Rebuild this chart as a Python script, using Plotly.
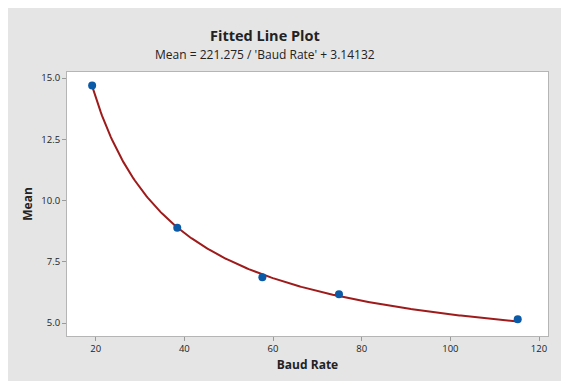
import numpy as np
import plotly.graph_objects as go

# Observed data
baud_rate = [19.2, 38.4, 57.6, 74.88, 115.2]
mean_vals = [14.69, 8.89, 6.87, 6.17, 5.15]

# Fitted model coefficients (from the subtitle)
fit_slope = 221.275
fit_intercept = 3.14132

x_ticks = [20, 40, 60, 80, 100, 120]
y_ticks = [5.0, 7.5, 10.0, 12.5, 15.0]
y_tick_text = ["5.0", "7.5", "10.0", "12.5", "15.0"]

title_text = "Fitted Line Plot"
subtitle_text = "Mean = 221.275 / 'Baud Rate' + 3.14132"

xf = np.linspace(min(baud_rate), max(baud_rate), 300)
yf = fit_slope / xf + fit_intercept

FONT = "Open Sans"

fig = go.Figure()
fig.add_trace(go.Scatter(x=xf, y=yf, mode="lines",
                         line=dict(color="#9e1b1b", width=2), hoverinfo="skip"))
fig.add_trace(go.Scatter(x=baud_rate, y=mean_vals, mode="markers",
                         marker=dict(color="#0b5aa8", size=8)))

# page has an 8px body margin; figure sized to fill the rest
OFF = 8
W, H = 569 - OFF, 385 - OFF
L, R, T, B = 67 - OFF, 21, 72 - OFF, 49
pw, ph = W - L - R, H - T - B

def px_x(p):
    return (p - OFF - L) / pw

def px_y(p):
    return (H - B - (p - OFF)) / ph

fig.add_shape(type="rect", xref="paper", yref="paper",
              x0=px_x(8), x1=px_x(568), y0=px_y(381), y1=px_y(8),
              fillcolor="#e5e5e5", line=dict(width=0), layer="below")
fig.add_shape(type="rect", xref="paper", yref="paper",
              x0=0, x1=1, y0=0, y1=1,
              fillcolor="white", line=dict(width=0), layer="below")

fig.add_annotation(text="<b>" + title_text + "</b>", xref="paper", yref="paper",
                   x=px_x(265), y=px_y(35), showarrow=False,
                   xanchor="center", yanchor="middle",
                   font=dict(family=FONT, size=14.5, color="#222"))
fig.add_annotation(text=subtitle_text, xref="paper", yref="paper",
                   x=px_x(265), y=px_y(54), showarrow=False,
                   xanchor="center", yanchor="middle",
                   font=dict(family=FONT, size=12, color="#222"))

axis_common = dict(showgrid=False, zeroline=False, showline=True, mirror=True,
                   linecolor="#b5b5b5", linewidth=1, ticks="outside", ticklen=4,
                   tickcolor="#9a9a9a",
                   tickfont=dict(family=FONT, size=9.5, color="#222"))

fig.update_xaxes(range=[13.53, 122.03], tickvals=x_ticks,
                 title=dict(text="<b>Baud Rate</b>", standoff=6,
                            font=dict(family=FONT, size=12, color="#222")),
                 **axis_common)
fig.update_yaxes(range=[4.47, 15.245], tickvals=y_ticks, ticktext=y_tick_text,
                 title=dict(text="<b>Mean</b>", standoff=6,
                            font=dict(family=FONT, size=12, color="#222")),
                 **axis_common)

fig.update_layout(width=W, height=H, margin=dict(l=L, r=R, t=T, b=B),
                  paper_bgcolor="white", plot_bgcolor="white",
                  showlegend=False)

fig.write_html("out.html")
